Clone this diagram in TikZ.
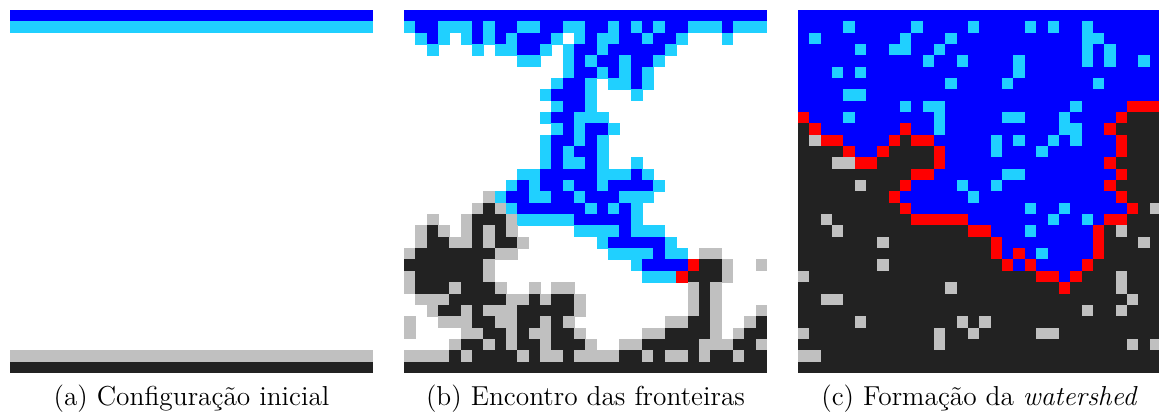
\documentclass[tikz,border=0pt]{standalone}
\usepackage{fontspec}
\definecolor{fillB}{RGB}{0,0,255}
\definecolor{fillC}{RGB}{32,208,255}
\definecolor{fillK}{RGB}{34,34,34}
\definecolor{fillG}{RGB}{192,192,192}
\definecolor{fillR}{RGB}{255,0,0}
% cell size and grid painter: one letter per cell (W = left white)
\def\cs{11.34}
\newcount\cellcol
\newcount\cellrowno
\def\panelrow#1{\cellcol=0 \docells#1\relax\advance\cellrowno by 1 }
\def\docells#1{\ifx#1\relax\else\paintcell#1\advance\cellcol by 1 \expandafter\docells\fi}
\def\paintcell#1{\if#1W\else\fill[fill#1] ({\panelx+\the\cellcol*\cs},{10+\the\cellrowno*\cs}) rectangle ++(11.84,11.84);\fi}
\tikzset{caption/.style={inner sep=0pt, font=\fontsize{13.7}{16}\selectfont}}
\begin{document}
\begin{tikzpicture}[x=0.5pt,y=-0.5pt]
\useasboundingbox (0,0) rectangle (1159,412);
\clip (0,0) rectangle (1159,412);
% (a) initial configuration
\fill[fillB] (10,10) rectangle ++(362.9,11.34);
\fill[fillC] (10,21.34) rectangle ++(362.9,11.34);
\fill[fillG] (10,350.2) rectangle ++(362.9,11.34);
\fill[fillK] (10,361.5) rectangle ++(362.9,11.34);
% (b) meeting of the fronts
\def\panelx{404}\cellrowno=0
\panelrow{BBBBBBBBBBBBBBBBBBBBBBBBBBBBBBBB}
\panelrow{CBBCCCBCBBCCBBCCBBCBCBCBBCCCBCCC}
\panelrow{WCBCWCBCBCBBBCWCBCCBBCBBCWWWCWWW}
\panelrow{WWCWWWCWCCBBCWCBBCBBBBBCWWWWWWWW}
\panelrow{WWWWWWWWWWCCWWCBCBBCBBCWWWWWWWWW}
\panelrow{WWWWWWWWWWWWWWCBBCBCBCWWWWWWWWWW}
\panelrow{WWWWWWWWWWWWWCBBCWCCBCWWWWWWWWWW}
\panelrow{WWWWWWWWWWWWCBBBCWWWCWWWWWWWWWWW}
\panelrow{WWWWWWWWWWWWWCBBCWWWWWWWWWWWWWWW}
\panelrow{WWWWWWWWWWWWCBBCCCWWWWWWWWWWWWWW}
\panelrow{WWWWWWWWWWWWWCBCBBCWWWWWWWWWWWWW}
\panelrow{WWWWWWWWWWWWCBBCBCWWWWWWWWWWWWWW}
\panelrow{WWWWWWWWWWWWCBCBBCWWWWWWWWWWWWWW}
\panelrow{WWWWWWWWWWWWCBCCBCWWCWWWWWWWWWWW}
\panelrow{WWWWWWWWWWCCBBBBBCCCBCWWWWWWWWWW}
\panelrow{WWWWWWWWWCBCBBCBBCBBBBCWWWWWWWWW}
\panelrow{WWWWWWWGCBBCCBBCBBBCCCWWWWWWWWWW}
\panelrow{WWWWWWGKGCBBBBBBCBCBCWWWWWWWWWWW}
\panelrow{WWGWWGKKKGCCCCCBBBBBCWWWWWWWWWWW}
\panelrow{WGKGWGKGKGWWWWWCCCCBCCCWWWWWWWWW}
\panelrow{WGKKGGKGKKGWWWWWWCBBBBBCWWWWWWWW}
\panelrow{GKKKKKKKGGWWWWWWWWCCCCBCCWGGWWWW}
\panelrow{KKKKKKKGWWWWWWWWWWWWCBBBBRKKGWWG}
\panelrow{GKKKKKKGWWWWWWWWWWWWWCCCRKKKGWWW}
\panelrow{GKKKGKKKGWWGWGGWWWWWWWWWWGKGWWWW}
\panelrow{WGGGKKKKKGGKGKKGWWWWWWWWWGKGWWWW}
\panelrow{WWGKKGKGGGKKKKKGWWWWWWWWWGKGWWWG}
\panelrow{GWWGGGKKGGKKGKGWWWWWWWWGGKKGWWGK}
\panelrow{GWWWWGGKKGKGGKKGWWWWWGGKKKKGWGKK}
\panelrow{WWWWGKKGKGKKGKKKGWWGGKKKKKGGGKKG}
\panelrow{GGGGKGKKKKGKGGKGGGGKKGKGGKGKKGKK}
\panelrow{KKKKKKKKKKKKKKKKKKKKKKKKKKKKKKKK}
% (c) watershed formation
\def\panelx{798}\cellrowno=0
\panelrow{BBBBBBBBBBBBBBBBBBBBBBBBBBBBBBBB}
\panelrow{BBBBCBBBBBCBBBBCBBBBCBCBBCBBBBBB}
\panelrow{BCBBBBBBBCBBBCBBBBBBBBBBBCCBBBBB}
\panelrow{BBBBBCBBCCBBCBBBBBBBBBBBBCBCBBBB}
\panelrow{BBBBBBBBBBBCBBCBBBBCBBBBBCBCBBCB}
\panelrow{BBBCBCBBBBBBBBBBBBBCBBBBBBBBBBBB}
\panelrow{BBBBBBBBBBBBBCBBBBCBBBBBBBCBBBBB}
\panelrow{BBBBCCBBBBBBBBBBBBBBBBBBBBBBBBBB}
\panelrow{BBBBBBBBBCBCCBBBBBBBBBBBCBBBBRRR}
\panelrow{RBBBCBBBBBBBCBBBBBCCBBBCBBBBRKKK}
\panelrow{KRBBBBBBBRBBCBBBBBBBBBBCCBBRKKKK}
\panelrow{KGRRBBBBRKRRBBBBBCBCBBCBCBBBRKKK}
\panelrow{KKKKRBBRKKKKRBBBBCBBBCBBBBBBRKKK}
\panelrow{KKKGGRRKKKKKRBBBBBBBBBBBBBBRKKKK}
\panelrow{KKKKKKKKKKRRBBBBBBCCBBBBBBBBRKKK}
\panelrow{KKKKKGKKKRBBBBCBBCBBBBBBBBBRKKKK}
\panelrow{KKKKKKKKRBBBBBBCBBBBBBBBBBBBRKKK}
\panelrow{KKKKKKKKKRBBBBBBBBBBCBBCBBBBBRKG}
\panelrow{KKGKKKKKKKRRRRRBBBBBBBCBBCBRRKKK}
\panelrow{KKKGKKKKKKKKKKKRRBBBCBBBBBRKGKKK}
\panelrow{KKKKKKKGKKKKKKKKKRBBBBBBBBRKKKGK}
\panelrow{KKKKKKKKKKKKKKKKKRBRBCBBBBRKKKKK}
\panelrow{KKKKKKKGKKKKKKKKKKRBRBBBBRKKKKKK}
\panelrow{GKKKKKKKKKKKKKKKKKKKKRRBRKKKGKKK}
\panelrow{KKKKKKKKKKKKKGKKKKKKKKKRKKKKGKKK}
\panelrow{KKGGKKKKKKKKKKKKKKKKKKKKKKKKKGKK}
\panelrow{KKKKKKKKKKKKKKKKKKKKKKKKKGKKGKKK}
\panelrow{KKKKKGKKKKKKKKGKGKKKKKKKKKKKKKKK}
\panelrow{GKKKKKKKKKKKGKKGKKKKKGGKKKKKKKKK}
\panelrow{KKKKKKKKKKKKGKKKKKKKKKKKKKKKKGKG}
\panelrow{GGKKKKKKKKKKKKKKKKKKKKKKKKKKKKKK}
\panelrow{KKKKKKKKKKKKKKKKKKKKKKKKKKKKKKKK}
% captions
\node[caption] (capa) at (191.5,398.5) {(a) Configuração inicial};
\node[caption] (capb) at (585.5,398.5) {(b) Encontro das fronteiras};
\node[caption] (capc) at (979.5,398.5) {(c) Formação da \textit{watershed}};
\end{tikzpicture}
\end{document}
